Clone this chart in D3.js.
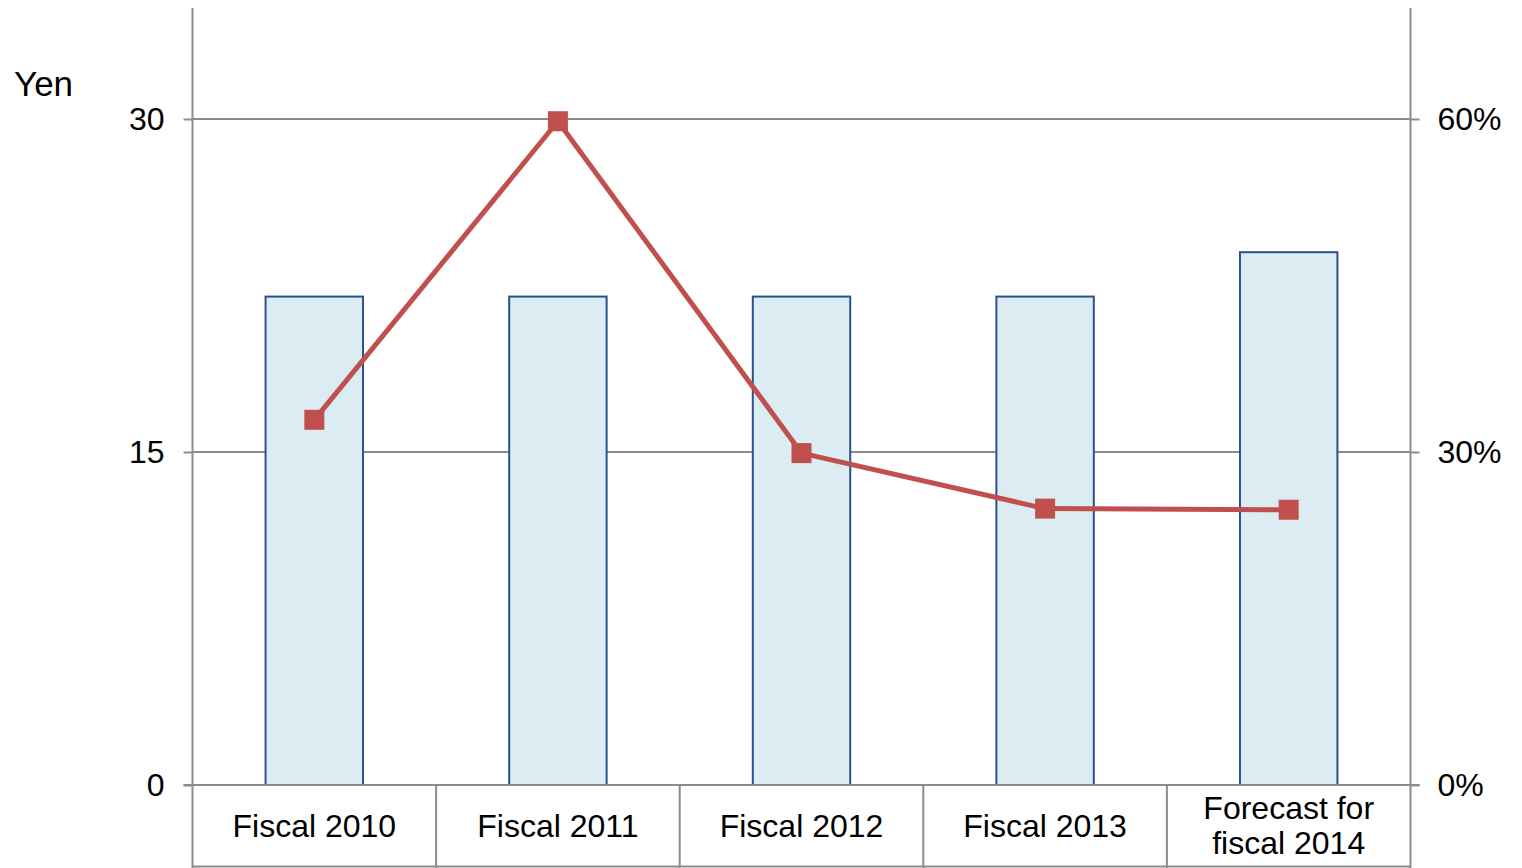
<!DOCTYPE html>
<html>
<head>
<meta charset="utf-8">
<script src="https://cdn.jsdelivr.net/npm/d3@7"></script>
<style>
  html, body { margin: 0; padding: 0; background: #fff; }
  svg { display: block; font-family: "Liberation Sans", Arial, sans-serif; }
</style>
</head>
<body>
<svg id="chart" width="1522" height="868"></svg>
<script>
// Dividends per share (yen) and payout ratio (%) by fiscal year
const categories = [["Fiscal 2010"], ["Fiscal 2011"], ["Fiscal 2012"], ["Fiscal 2013"], ["Forecast for", "fiscal 2014"]];
const dividends = [22, 22, 22, 22, 24];
const payoutRatio = [32.9, 59.8, 29.9, 24.9, 24.8];
const yenTicks = [0, 15, 30];
const pctTicks = [0, 30, 60];

const svg = d3.select("#chart");
const plotLeft = 192.5, plotRight = 1410.5, plotTop = 8, base = 785, plotBottom = 866.5;
const axisColor = "#8c8c8c";
const labelSize = 32;

const x = d3.scaleBand().domain(d3.range(categories.length)).range([plotLeft, plotRight]).paddingInner(0).paddingOuter(0);
const yL = d3.scaleLinear().domain([0, 30]).range([base, 119]);
const yR = d3.scaleLinear().domain([0, 60]).range([base, 119]);
const barW = x.bandwidth() * 0.4;

// horizontal gridlines
svg.append("g").selectAll("line").data(yenTicks.filter(d => d > 0)).join("line")
  .attr("x1", plotLeft).attr("x2", plotRight)
  .attr("y1", d => yL(d)).attr("y2", d => yL(d))
  .attr("stroke", axisColor).attr("stroke-width", 2);

// bars
svg.append("g").selectAll("rect").data(dividends).join("rect")
  .attr("x", (d, i) => x(i) + x.bandwidth() / 2 - barW / 2)
  .attr("y", d => yL(d))
  .attr("width", barW)
  .attr("height", d => base - yL(d))
  .attr("fill", "#dbedf3")
  .attr("stroke", "#2a5190")
  .attr("stroke-width", 2);

// axis frame lines
const frame = svg.append("g").attr("stroke", axisColor).attr("stroke-width", 2);
frame.append("line").attr("x1", plotLeft).attr("x2", plotLeft).attr("y1", plotTop).attr("y2", 868);
frame.append("line").attr("x1", plotRight).attr("x2", plotRight).attr("y1", plotTop).attr("y2", 868);
frame.append("line").attr("x1", plotLeft - 9).attr("x2", plotRight + 9).attr("y1", base).attr("y2", base);
frame.append("line").attr("x1", plotLeft).attr("x2", plotRight).attr("y1", plotBottom).attr("y2", plotBottom);
// category separators
frame.selectAll("line.sep").data(d3.range(1, categories.length)).join("line")
  .attr("class", "sep")
  .attr("x1", i => x(i)).attr("x2", i => x(i))
  .attr("y1", base).attr("y2", 868);

// left axis ticks and labels
const yAxisL = d3.axisLeft(yL).tickValues(yenTicks).tickSize(9).tickPadding(19).tickFormat(d3.format("d"));
const gL = svg.append("g").attr("transform", `translate(${plotLeft},0)`).call(yAxisL);
gL.select(".domain").remove();
gL.selectAll(".tick line").attr("stroke", axisColor).attr("stroke-width", 2);
gL.selectAll(".tick text").attr("font-size", labelSize).attr("fill", "#000").attr("font-family", "Liberation Sans, Arial, sans-serif");

// right axis ticks and labels
const yAxisR = d3.axisRight(yR).tickValues(pctTicks).tickSize(9).tickPadding(18).tickFormat(d => d + "%");
const gR = svg.append("g").attr("transform", `translate(${plotRight},0)`).call(yAxisR);
gR.select(".domain").remove();
gR.selectAll(".tick line").attr("stroke", axisColor).attr("stroke-width", 2);
gR.selectAll(".tick text").attr("font-size", labelSize).attr("fill", "#000").attr("font-family", "Liberation Sans, Arial, sans-serif");

// unit label
svg.append("text").attr("x", 14).attr("y", 96).attr("font-size", 35).attr("fill", "#000").text("Yen");

// category labels
const catG = svg.append("g").attr("font-size", labelSize).attr("fill", "#000").attr("text-anchor", "middle");
categories.forEach((lines, i) => {
  const cx = x(i) + x.bandwidth() / 2;
  const t = catG.append("text").attr("x", cx);
  if (lines.length === 1) {
    t.append("tspan").attr("x", cx).attr("y", 837).text(lines[0]);
  } else {
    t.append("tspan").attr("x", cx).attr("y", 819).text(lines[0]);
    t.append("tspan").attr("x", cx).attr("y", 854).text(lines[1]);
  }
});

// payout ratio line
const line = d3.line().x((d, i) => x(i) + x.bandwidth() / 2).y(d => yR(d));
svg.append("path").datum(payoutRatio)
  .attr("d", line).attr("fill", "none")
  .attr("stroke", "#c0504d").attr("stroke-width", 5).attr("stroke-linejoin", "round");

const m = 20;
svg.append("g").selectAll("rect").data(payoutRatio).join("rect")
  .attr("x", (d, i) => x(i) + x.bandwidth() / 2 - m / 2)
  .attr("y", d => yR(d) - m / 2)
  .attr("width", m).attr("height", m)
  .attr("fill", "#c0504d");
</script>
</body>
</html>
